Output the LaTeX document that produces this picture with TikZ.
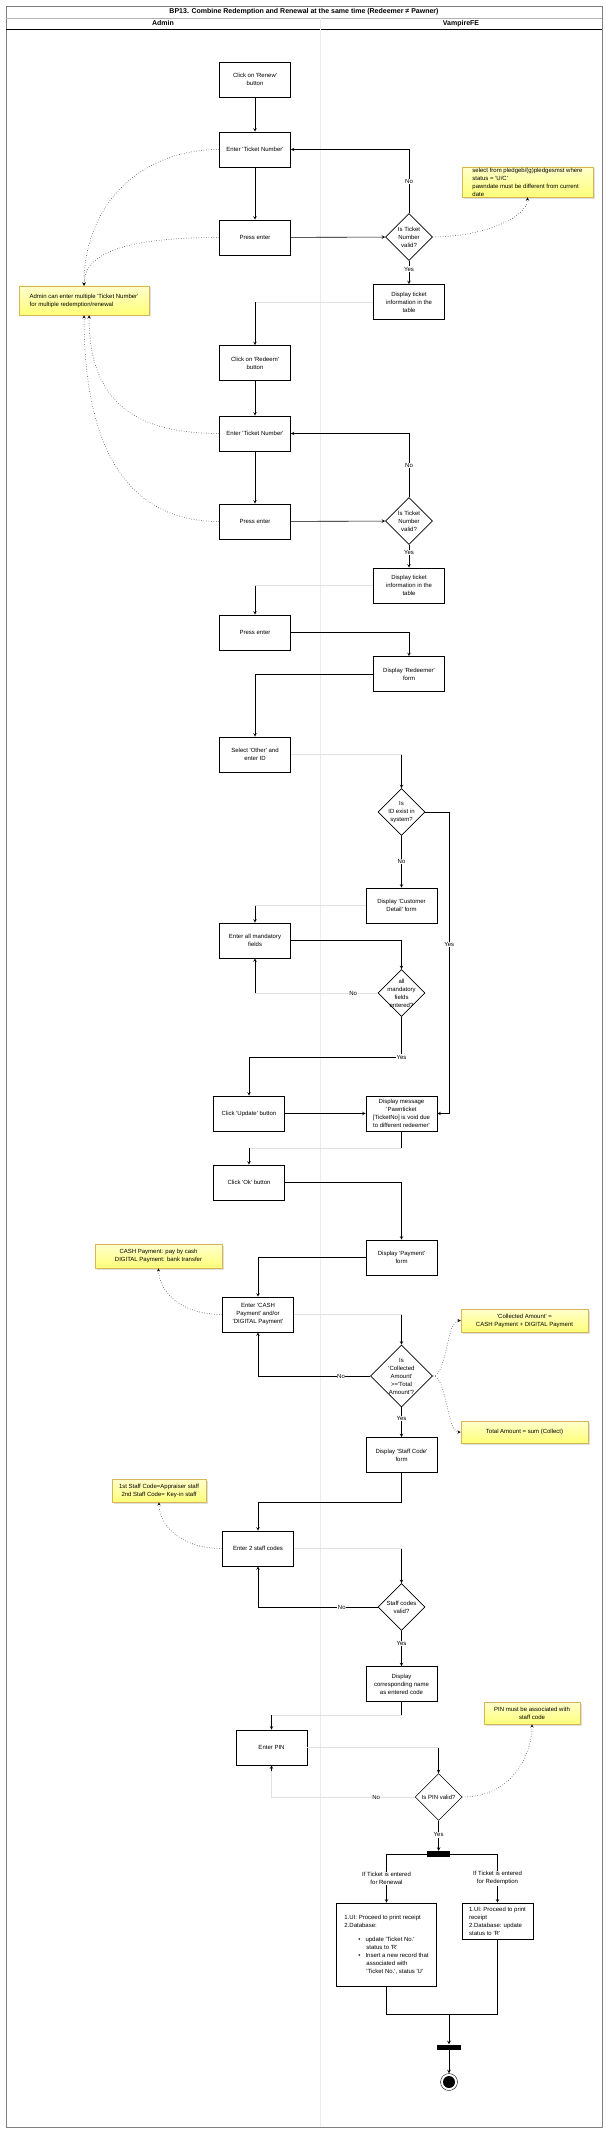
\documentclass[tikz,border=0pt]{standalone}
\usepackage{fontspec}
\setmainfont{Liberation Sans}[Ligatures=TeXOff]
\usetikzlibrary{shapes,shadows}
\usetikzlibrary{arrows}

\definecolor{notefill}{RGB}{255,255,120}
\definecolor{notetop}{RGB}{255,255,205}
\definecolor{noteline}{RGB}{214,182,86}

\newcommand{\diagfont}{\fontsize{6}{8}\selectfont}

\tikzset{
  act/.style={draw, line width=0.6pt, minimum width=71pt, minimum height=35pt, inner sep=1pt, align=center, font=\diagfont},
  decision/.style={diamond, draw, line width=0.6pt, minimum size=47pt, inner sep=0pt},
  dtext/.style={align=center, font=\diagfont, inner sep=0pt},
  stickynote/.style={draw=noteline, line width=0.5pt, top color=notetop, bottom color=notefill, drop shadow={opacity=0.25, shadow xshift=1.5pt, shadow yshift=-1.5pt}, inner sep=1pt, font=\diagfont},
  flow/.style={draw, line width=0.6pt, ->, >=stealth},
  link/.style={draw, line width=0.6pt},
  faint/.style={draw=black!12, line width=0.6pt},
  hint/.style={draw, line width=0.5pt, dotted, ->, >=stealth},
  lbl/.style={fill=white, inner sep=0.5pt, align=center, font=\diagfont},
  syncbar/.style={fill=black, minimum width=23pt, minimum height=6pt, inner sep=0pt},
  endstate/.style={circle, draw, line width=0.4pt, minimum size=17pt, inner sep=0pt, path picture={\fill (path picture bounding box.center) circle (6pt);}},
}

\begin{document}
\begin{tikzpicture}[x=1pt,y=-1pt]
\useasboundingbox (0,0) rectangle (605,2132);
% pool and lanes
\draw[black!50, line width=0.5pt] (6,6) rectangle (602,2127);
\draw[black!30, line width=0.4pt] (6,18) -- (602,18);
\draw[line width=0.8pt] (6,29) -- (602,29);
\draw[black!8, line width=0.4pt] (320,18) -- (320,2127);
\node[font=\fontsize{7}{8}\selectfont\bfseries] (title) at (304,12) {BP13. Combine Redemption and Renewal at the same time (Redeemer ≠ Pawner)};
\node[font=\fontsize{7}{8}\selectfont\bfseries] (admin) at (163,23.5) {Admin};
\node[font=\fontsize{7}{8}\selectfont\bfseries] (vfe) at (461,23.5) {VampireFE};

% renewal ticket
\node[act] (renew1) at (255,79.5) {Click on 'Renew'\\button};
\node[act] (ticket1) at (255,149.5) {Enter 'Ticket Number'};
\node[act] (press1) at (255,237.5) {Press enter};
\node[decision, label={[dtext]center:Is Ticket\\Number\\valid?}] (valid1) at (409,237) {};
\node[act] (display1) at (409,302) {Display ticket\\information in the\\table};
\node[stickynote, minimum width=131pt, minimum height=30pt, align=left] (note1) at (527.5,182) {select from pledgeb/(g)pledgesmst where\\status = 'U/C'\\pawndate must be different from current\\date};
\node[stickynote, minimum width=130pt, minimum height=29pt, align=left] (note2) at (84,300.5) {Admin can enter multiple 'Ticket Number'\\for multiple redemption/renewal};

% redemption ticket
\node[act] (redeem) at (255,363) {Click on 'Redeem'\\button};
\node[act] (ticket2) at (255,433.5) {Enter 'Ticket Number'};
\node[act] (press2) at (255,521.5) {Press enter};
\node[decision, label={[dtext]center:Is Ticket\\Number\\valid?}] (valid2) at (409,521) {};
\node[act] (display2) at (409,585.5) {Display ticket\\information in the\\table};
\node[act] (press3) at (255,632.5) {Press enter};

% redeemer
\node[act] (dispRedeemer) at (409,674) {Display 'Redeemer'\\form};
\node[act] (selOther) at (255,754.5) {Select 'Other' and\\enter ID};
\node[decision, label={[dtext]center:Is\\ID exist in\\system?}] (exist) at (401.5,812) {};
\node[act] (dispCustomer) at (401.5,905.5) {Display 'Customer\\Detail' form};
\node[act] (mandatory) at (255,940.5) {Enter all mandatory\\fields};
\node[decision, label={[dtext]center:all\\mandatory\\fields\\entered?}] (allMand) at (401.5,993) {};
\node[act] (update) at (249,1113.5) {Click 'Update' button};
\node[act] (message) at (401.5,1113.5) {Display message\\'Pawnticket\\{[TicketNo]} is void due\\to different redeemer'};
\node[act] (okbtn) at (249,1182.5) {Click 'Ok' button};

% payment
\node[act] (dispPayment) at (401.5,1257.5) {Display 'Payment'\\form};
\node[stickynote, minimum width=127pt, minimum height=24pt, align=center] (note3) at (158.5,1256) {CASH Payment: pay by cash\\DIGITAL Payment: bank transfer};
\node[act] (enterPay) at (258,1314.5) {Enter 'CASH\\Payment' and/or\\'DIGITAL Payment'};
\node[decision, minimum size=62pt, label={[dtext]center:Is\\'Collected\\Amount'\\>='Total\\Amount'?}] (collected) at (401.5,1376) {};
\node[stickynote, minimum width=127pt, minimum height=23pt, align=center] (note4) at (524.5,1320.5) {'Collected Amount' =\\CASH Payment + DIGITAL Payment};
\node[stickynote, minimum width=127pt, minimum height=22pt, align=center] (note5) at (524.5,1432) {Total Amount = sum (Collect)};

% staff codes and PIN
\node[act] (dispStaff) at (401.5,1455) {Display 'Staff Code'\\form};
\node[stickynote, minimum width=94pt, minimum height=23pt, align=center] (note6) at (159,1490.5) {1st Staff Code=Appraiser staff\\2nd Staff Code= Key-in staff};
\node[act] (enterStaff) at (258,1548.5) {Enter 2 staff codes};
\node[decision, label={[dtext]center:Staff codes\\valid?}] (staffValid) at (401.5,1607) {};
\node[act] (dispName) at (401.5,1684) {Display\\corresponding name\\as entered code};
\node[act] (enterPIN) at (271.5,1747.5) {Enter PIN};
\node[stickynote, minimum width=96pt, minimum height=22pt, align=center] (note7) at (532,1713) {PIN must be associated with\\staff code};
\node[decision, label={[dtext]center:Is PIN valid?}] (pinValid) at (438.6,1797) {};

% receipts
\node[syncbar] (fork) at (438.6,1854) {};
\node[act, minimum width=100pt, minimum height=83pt, align=left] (renewBox) at (386.5,1944.5) {1.UI: Proceed to print receipt\\2.Database:\\[6pt]
\hspace*{14pt}\textbullet\hspace{5pt}update 'Ticket No.'\\
\hspace*{22pt}status to 'R'\\
\hspace*{14pt}\textbullet\hspace{5pt}Insert a new record that\\
\hspace*{22pt}associated with\\
\hspace*{22pt}'Ticket No.', status 'U'};
\node[act, minimum height=36pt, align=left] (redeemBox) at (497.5,1921) {1.UI: Proceed to print\\receipt\\2.Database: update\\status to 'R'};
\node[syncbar, minimum width=24pt, minimum height=5pt] (join) at (449,2047) {};
\node[endstate] (final) at (449,2082) {};

\coordinate (ybend) at (401.5,1057);
\coordinate (mbend) at (401.5,1148);
\coordinate (sbend) at (401.5,1502);
\coordinate (nbend) at (401.5,1715);
\coordinate (jbend) at (449,2014);

% connectors
\draw[flow] (renew1) -- (ticket1);
\draw[flow] (ticket1) -- (press1);
\draw[flow] (press1) -- (valid1);
\draw[flow] (valid1) |- node[lbl, pos=0.25] {No} (ticket1);
\draw[flow] (valid1) -- node[lbl, pos=0.35] {Yes} (display1);
\draw[faint] (display1.west) -- (display1.west -| redeem.north);
\draw[flow] (display1.west -| redeem.north) -- (redeem.north);
\draw[flow] (redeem) -- (ticket2);
\draw[flow] (ticket2) -- (press2);
\draw[flow] (press2) -- (valid2);
\draw[flow] (valid2) |- node[lbl, pos=0.25] {No} (ticket2);
\draw[flow] (valid2) -- node[lbl, pos=0.35] {Yes} (display2);
\draw[faint] (display2.west) -- (display2.west -| press3.north);
\draw[flow] (display2.west -| press3.north) -- (press3.north);
\draw[flow] (press3) -| (dispRedeemer);
\draw[flow] (dispRedeemer) -| (selOther);
\draw[faint] (selOther.east) -- (selOther.east -| exist.north);
\draw[flow] (selOther.east -| exist.north) -- (exist.north);
\draw[flow] (exist.east) -- ++(24,0) |- node[lbl, pos=0.22] {Yes} (message.east);
\draw[flow] (exist) -- node[lbl] {No} (dispCustomer);
\draw[faint] (dispCustomer.west) -- (dispCustomer.west -| mandatory.north);
\draw[flow] (dispCustomer.west -| mandatory.north) -- (mandatory.north);
\draw[flow] (mandatory) -| (allMand);
\draw[faint] (allMand.west) -- node[lbl, pos=0.2] {No} (allMand.west -| mandatory.south);
\draw[flow] (allMand.west -| mandatory.south) -- (mandatory.south);
\draw[flow] (allMand) -- (ybend) node[lbl] {Yes} -| (update);
\draw[flow] (update) -- (message);
\draw[link] (message) -- (mbend);
\draw[faint] (mbend) -- (mbend -| okbtn.north);
\draw[flow] (mbend -| okbtn.north) -- (okbtn);
\draw[flow] (okbtn) -| (dispPayment);
\draw[flow] (dispPayment) -| (enterPay);
\draw[faint] (enterPay.east) -- (enterPay.east -| collected.north);
\draw[flow] (enterPay.east -| collected.north) -- (collected.north);
\draw[flow] (collected) -| node[lbl, pos=0.13] {No} (enterPay);
\draw[flow] (collected) -- node[lbl, pos=0.37] {Yes} (dispStaff);
\draw[flow] (dispStaff) -- (sbend) -| (enterStaff);
\draw[faint] (enterStaff.east) -- (enterStaff.east -| staffValid.north);
\draw[flow] (enterStaff.east -| staffValid.north) -- (staffValid.north);
\draw[flow] (staffValid) -| node[lbl, pos=0.15] {No} (enterStaff);
\draw[flow] (staffValid) -- node[lbl, pos=0.35] {Yes} (dispName);
\draw[link] (dispName) -- (nbend);
\draw[faint] (nbend) -- (nbend -| enterPIN.north);
\draw[flow] (nbend -| enterPIN.north) -- (enterPIN);
\draw[faint] (enterPIN.east) -- (enterPIN.east -| pinValid.north);
\draw[flow] (enterPIN.east -| pinValid.north) -- (pinValid.north);
\draw[faint] (pinValid.west) -- node[lbl, pos=0.27] {No} (pinValid.west -| enterPIN.south) -- ([yshift=-6pt]enterPIN.south);
\draw[flow] ([yshift=-6pt]enterPIN.south) -- (enterPIN.south);
\draw[flow] (pinValid) -- node[lbl, pos=0.47] {Yes} (fork);
\draw[flow] (fork) -| node[lbl, pos=0.75] {If Ticket is entered\\for Renewal} (renewBox);
\draw[flow] (fork) -| node[lbl, pos=0.75] {If Ticket is entered\\for Redemption} (redeemBox);
\draw[link] (renewBox) |- (jbend);
\draw[link] (redeemBox) |- (jbend);
\draw[flow] (jbend) -- (join);
\draw[flow] (join) -- (final);

% notes
\draw[hint] (valid1.east) .. controls +(50,0) and +(0,20) .. (note1.south);
\draw[hint] (ticket1.west) .. controls +(-80,0) and +(0,-80) .. (note2.north);
\draw[hint] (press1.west) .. controls +(-70,0) and +(0,-40) .. (note2.north);
\draw[hint] (ticket2.west) .. controls +(-80,0) and +(0,90) .. ([xshift=5pt]note2.south);
\draw[hint] (press2.west) .. controls +(-100,0) and +(0,120) .. (note2.south);
\draw[hint] (enterPay.west) .. controls +(-45,0) and +(0,20) .. (note3.south);
\draw[hint] (collected.east) .. controls +(14,0) and +(-14,0) .. (note4.west);
\draw[hint] (collected.east) .. controls +(14,0) and +(-14,0) .. (note5.west);
\draw[hint] (enterStaff.west) .. controls +(-45,0) and +(0,20) .. (note6.south);
\draw[hint] (pinValid.east) .. controls +(50,0) and +(0,30) .. (note7.south);
\end{tikzpicture}
\end{document}
